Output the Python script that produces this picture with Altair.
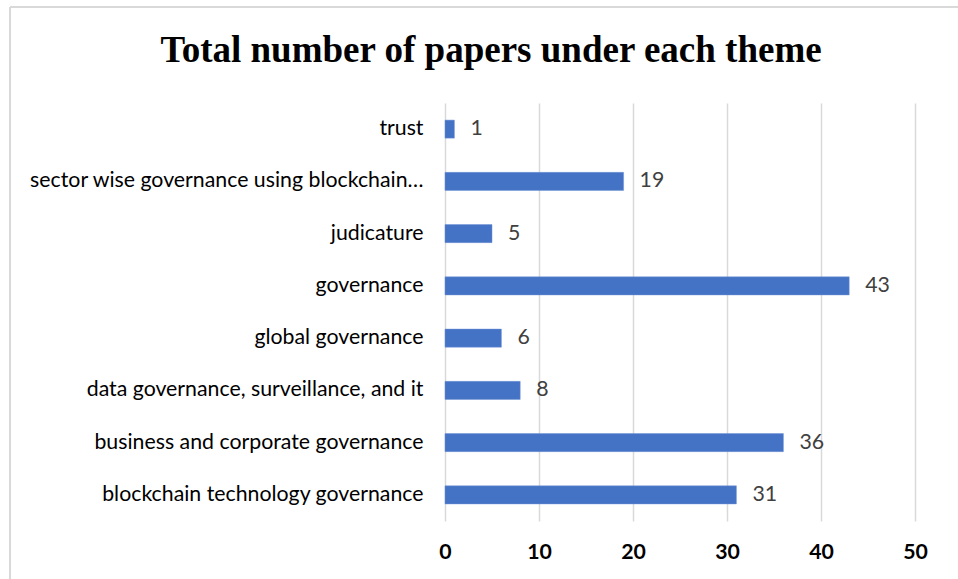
import altair as alt
import pandas as pd

themes = [
    "trust",
    "sector wise governance using blockchain…",
    "judicature",
    "governance",
    "global governance",
    "data governance, surveillance, and it",
    "business and corporate governance",
    "blockchain technology governance",
]
papers = [1, 19, 5, 43, 6, 8, 36, 31]
title_text = ["Total number of papers under each theme"]

df = pd.DataFrame({"theme": themes, "papers": papers})
tdf = pd.DataFrame({"t": title_text})

LABEL_FONT = "Lato"
FS = 21.3

y_enc = alt.Y(
    "theme:N",
    sort=themes,
    title=None,
    scale=alt.Scale(paddingInner=0.655, paddingOuter=0.3275),
    axis=alt.Axis(
        ticks=False,
        domain=False,
        grid=False,
        labelFont=LABEL_FONT,
        labelFontSize=FS,
        labelColor="#000000",
        labelPadding=22,
        labelLimit=500,
    ),
)
x_enc = alt.X(
    "papers:Q",
    title=None,
    scale=alt.Scale(domain=[0, 50], nice=False),
    axis=alt.Axis(
        values=[0, 10, 20, 30, 40, 50],
        ticks=False,
        domain=False,
        grid=True,
        gridColor="#d9d9d9",
        gridWidth=1.5,
        labelFont=LABEL_FONT,
        labelFontSize=FS,
        labelFontWeight="bold",
        labelColor="#000000",
        labelPadding=20,
        labelFlush=False,
    ),
)

base = alt.Chart(df)

bars = base.mark_bar(color="#4472C4", stroke="#6f93d6", strokeWidth=0.5).encode(
    x=x_enc, y=y_enc
)

text = base.mark_text(
    align="left", baseline="middle", dx=16, font=LABEL_FONT, fontSize=FS, color="#404040"
).encode(x="papers:Q", y=alt.Y("theme:N", sort=themes), text="papers:Q")

frame_left = base.mark_rule(color="#d9d9d9", strokeWidth=1.5).encode(
    x=alt.value(-435), y=alt.value(-96), y2=alt.value(480)
)
frame_top = base.mark_rule(color="#d9d9d9", strokeWidth=1.5).encode(
    x=alt.value(-435), x2=alt.value(520), y=alt.value(-96)
)

title = alt.Chart(tdf).mark_text(
    font="Liberation Serif",
    fontSize=37,
    fontWeight="bold",
    color="#000000",
    align="center",
    baseline="middle",
).encode(text="t:N", x=alt.value(46), y=alt.value(-52))

chart = (
    alt.layer(frame_left, frame_top, title, bars, text)
    .properties(
        width=470,
        height=418,
        autosize=alt.AutoSizeParams(type="none"),
        padding={"left": 445, "top": 103, "right": 43, "bottom": 58},
        background="#ffffff",
    )
    .configure_view(strokeWidth=0, stroke="transparent")
)

chart.save("out.html", embed_options={"renderer": "svg", "actions": False})
